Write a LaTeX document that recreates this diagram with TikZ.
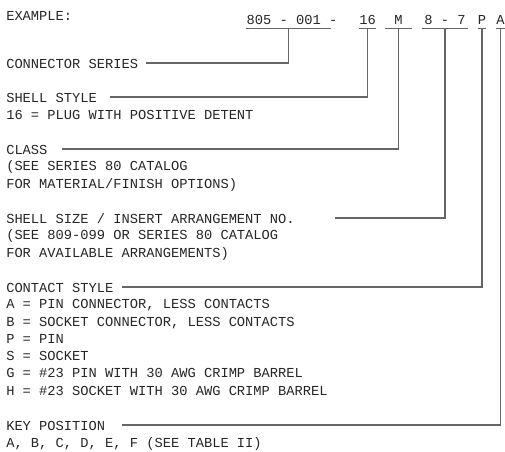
\documentclass[tikz,border=0pt]{standalone}
\usepackage{fontspec}
\setmonofont{Liberation Mono}

\begin{document}
\begin{tikzpicture}[x=0.75pt,y=-0.75pt,
    lbl/.style={anchor=base west, inner sep=0pt, align=left, text=black!85,
      font=\fontsize{10.3pt}{12.94pt}\selectfont\ttfamily},
    code/.style={anchor=base, inner sep=0pt, text depth=3pt, text=black!85,
      font=\fontsize{10.3pt}{12.94pt}\selectfont\ttfamily},
    lead/.style={draw=black!60, line width=0.9pt}]
  \useasboundingbox (0,0) rectangle (505,451);

  % part number
  \node[code] (ser) at (292,24) {805 - 001 -};
  \node[code, minimum width=11.25pt] (shl) at (367.5,24) {16};
  \node[code, minimum width=20.25pt] (cls) at (398.5,24) {M};
  \node[code, minimum width=34.5pt] (ins) at (445,24) {8 - 7};
  \node[code, minimum width=6pt] (con) at (482,24) {P};
  \node[code, minimum width=5.25pt] (key) at (500.5,24) {A};

  \draw[lead] (ser.south west) -- ([xshift=-5pt]ser.south east);
  \draw[lead] (shl.south west) -- (shl.south east);
  \draw[lead] (cls.south west) -- (cls.south east);
  \draw[lead] (ins.south west) -- (ins.south east);
  \draw[lead] (con.south west) -- (con.south east);
  \draw[lead] (key.south west) -- (key.south east);

  % legend (multi-line nodes sit on their last line)
  \node[lbl] (ex) at (6,20) {EXAMPLE:};
  \node[lbl] (hser) at (6,68) {CONNECTOR SERIES};
  \node[lbl] (hshl) at (6,102) {SHELL STYLE};
  \node[lbl] (dshl) at (6,119) {16 = PLUG WITH POSITIVE DETENT};
  \node[lbl] (hcls) at (6,154) {CLASS};
  \node[lbl] (dcls) at (6,188) {(SEE SERIES 80 CATALOG\\FOR MATERIAL/FINISH OPTIONS)};
  \node[lbl] (hins) at (6,223) {SHELL SIZE / INSERT ARRANGEMENT NO.};
  \node[lbl] (dins) at (6,257) {(SEE 809-099 OR SERIES 80 CATALOG\\FOR AVAILABLE ARRANGEMENTS)};
  \node[lbl] (hcon) at (6,292) {CONTACT STYLE};
  \node[lbl] (dcon) at (6,395) {A = PIN CONNECTOR, LESS CONTACTS\\
    B = SOCKET CONNECTOR, LESS CONTACTS\\P = PIN\\S = SOCKET\\
    G = \#23 PIN WITH 30 AWG CRIMP BARREL\\H = \#23 SOCKET WITH 30 AWG CRIMP BARREL};
  \node[lbl] (hkey) at (6,430) {KEY POSITION};
  \node[lbl] (dkey) at (6,447) {A, B, C, D, E, F (SEE TABLE II)};

  % leaders
  \coordinate (lser) at (146,63);
  \coordinate (lshl) at (110,97);
  \coordinate (lcls) at (62,149);
  \coordinate (lins) at (335,218);
  \coordinate (lcon) at (122,287);
  \coordinate (lkey) at (122,425);

  \draw[lead] ([xshift=-2.6pt]ser.south) |- (lser);
  \draw[lead] (shl.south) |- (lshl);
  \draw[lead] (cls.south) |- (lcls);
  \draw[lead] (ins.south) |- (lins);
  \draw[lead] (con.south) |- (lcon);
  \draw[lead] (key.south) |- (lkey);
\end{tikzpicture}
\end{document}
